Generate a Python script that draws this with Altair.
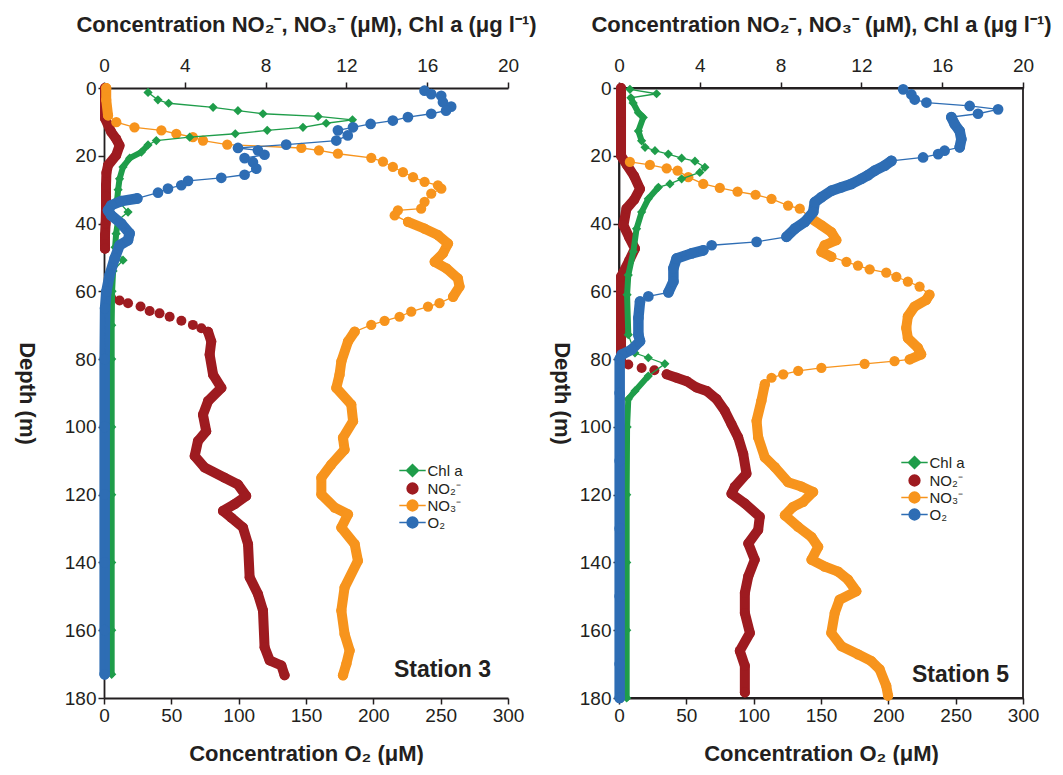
import altair as alt
import pandas as pd

# ---------------- Station 3 ----------------
ST3_CHL_DEPTH = [1.3, 3.5, 4.5, 5.7, 6.7, 7.6, 8.4, 9.4, 10.4, 11.6, 12.5, 13.5, 14.5, 15.5, 16.8,
                 18.9, 20.7, 23.3, 26.8, 30, 33, 36.6, 39, 43, 47, 50.8, 54, 60, 70, 80, 100, 120,
                 140, 160, 173]
ST3_CHL = [2.18, 2.67, 3.2, 5.4, 6.63, 7.87, 10.6, 12.3, 11.0, 9.85, 8.08, 6.5, 4.24, 2.59, 2.18,
           1.85, 1.27, 0.94, 0.77, 0.7, 0.65, 1.19, 0.7, 0.6, 0.55, 0.94, 0.45, 0.4, 0.38, 0.38,
           0.38, 0.38, 0.38, 0.38, 0.38]

ST3_NO2_DEPTH = [0, 4, 8, 9, 13, 15, 17, 19.9, 22.8, 25, 28.7, 32, 35.6, 40, 43.4, 47.4,
                 62, 62.7, 63.5, 64.5, 65.8, 66.5, 67.5, 68.7, 69.9, 70.9, 71.9,
                 74.8, 78.7, 84.6, 88.5, 92.4, 96.4, 101.3, 104.2, 108.6, 112, 115, 117, 120.4,
                 122.8, 124.8, 126.8, 129.7, 134.6, 144.4, 149.3, 154.2, 165, 168.9, 170.4, 173.3]
ST3_NO2 = [0.05, 0.05, 0.05, 0.05, 0.36, 0.6, 0.77, 0.6, 0.2, 0.12, 0.1, 0.1, 0.1, 0.08, 0.05, 0.05,
           0.36, 0.77, 1.19, 1.81, 2.26, 2.75, 3.25, 3.83, 4.4, 4.82, 5.15,
           5.31, 5.23, 5.4, 5.81, 5.15, 4.9, 5.06, 4.65, 4.49, 4.98, 5.97, 6.63, 7.04,
           6.47, 5.89, 6.3, 6.88, 7.13, 7.21, 7.62, 7.87, 7.95, 8.2, 8.78, 8.94]

ST3_NO3_DEPTH = [0, 3.5, 8.1, 10.1, 11.6, 12.5, 13.5, 14.5, 15.5, 16.7, 17.7, 18.4, 19.4, 20.6, 21.7,
                 23.3, 24.8, 26.3, 27.7, 28.7, 29.7, 31.2, 33.6, 35.6, 36.1, 37.6, 39.5, 41.5, 43.4,
                 45.9, 48.8, 51.3, 53.2, 56.2, 58.6, 61.6, 63.5, 64.5, 66, 67.5, 68.7, 69.9, 71.9,
                 74.8, 80.7, 84.6, 88.5, 93.4, 98.3, 103.2, 106.7, 111.1, 115, 119.9, 123.8, 125.8,
                 129.7, 134.6, 139.5, 147.4, 154.2, 161.1, 166, 169.9, 173.3]
ST3_NO3 = [0.11, 0.11, 0.2, 0.61, 1.51, 2.84, 3.58, 4.4, 4.9, 6.1, 9.77, 10.64, 11.58, 13.23, 13.81,
           14.3, 14.8, 15.3, 15.87, 16.53, 16.7, 16.2, 15.87, 15.7, 14.55, 14.39, 15.05, 15.87, 16.53,
           17.03, 16.78, 16.37, 16.95, 17.52, 17.6, 17.28, 16.61, 16.04, 15.21, 14.63, 13.89, 13.23,
           12.41, 12.08, 11.75, 11.66, 11.5, 12.24, 12.33, 11.83, 11.91, 11.25, 10.76, 10.76, 11.42,
           12.08, 11.75, 12.41, 12.57, 11.91, 11.75, 11.91, 12.16, 12.0, 11.83]

ST3_O2_DEPTH = [0.8, 1.8, 2.3, 4.2, 5.5, 6.7, 7.6, 8.6, 9.6, 10.6, 11.6, 12.5, 14, 15.5, 16.7, 17.7,
                18.4, 19.7, 20.7, 21.9, 23.8, 25.6, 26.5, 27.4, 28.7, 29.7, 30.9, 32.6, 33.4, 34.6,
                36.1, 37.6, 40, 42.9, 44.9, 46.4, 50.3, 55.2, 60.1, 65, 80, 100, 120, 140, 160, 173]
ST3_O2 = [238, 243, 250.4, 251.7, 257.8, 254, 243, 225.7, 214.5, 198, 184.9, 173.7, 181, 172.5, 135.3,
          99.5, 114.3, 119.2, 104.4, 110.6, 113.1, 104.4, 87.1, 62.4, 57.4, 47.5, 40.1, 24.7, 12.8,
          5.4, 3, 5.4, 12.8, 19, 17.8, 11.6, 7.9, 4.2, 1.7, 0.8, 0.5, 0.5, 0.5, 0.5, 0.5, 0.5]

# ---------------- Station 5 ----------------
ST5_CHL_DEPTH = [0.4, 1.7, 2.9, 4.4, 7.3, 8.7, 12.7, 15.6, 17.5, 18.5, 19.5, 20.7, 21.6, 23.4, 24.9,
                 26.8, 28.3, 29.3, 32.7, 36.6, 41.5, 48.3, 55.2, 61, 72.8, 78.2, 79.6, 81.4, 85,
                 89.4, 91.8, 100, 120, 140, 160, 180]
ST5_CHL = [0.54, 1.86, 0.59, 0.7, 0.96, 1.2, 0.96, 1.12, 1.29, 1.78, 2.44, 3.1, 3.76, 4.25, 4.0,
           3.1, 2.52, 1.95, 1.45, 1.12, 0.87, 0.71, 0.46, 0.4, 0.46, 0.79, 1.45, 2.27, 1.45,
           0.79, 0.46, 0.4, 0.38, 0.38, 0.38, 0.38]

ST5_NO2_DEPTH = [0, 10, 20, 22.8, 26, 29.8, 33, 35.6, 40.5, 44, 47.4, 51, 55.7, 60, 70, 80,
                 81.6, 82.6, 83.3, 84.5, 85.5, 86.5, 88.4, 89.4, 91.8, 95.3, 99.2, 103.1, 108,
                 113.8, 117.7, 119.7, 122.6, 126.5, 130.4, 134.4, 139.2, 144.1, 149, 154.9, 160.8,
                 166.1, 170.5, 178.4]
ST5_NO2 = [0.1, 0.1, 0.1, 0.4, 0.75, 1.04, 0.75, 0.37, 0.22, 0.5, 0.79, 0.5, 0.1, 0.1, 0.1, 0.1,
           0.46, 1.12, 1.75, 2.36, 2.85, 3.35, 3.84, 4.34, 4.83, 5.24, 5.57, 5.9, 6.15,
           6.31, 5.73, 5.57, 6.23, 6.97, 6.89, 6.4, 6.72, 6.4, 6.23, 6.23, 6.48,
           5.98, 6.23, 6.23]

ST5_NO3_DEPTH = [21.8, 22.7, 23.7, 24.4, 26.3, 28.3, 29.5, 30.6, 31.5, 32.7, 34.7, 35.6, 38.6, 40.5,
                 42.5, 44.9, 46.4, 48.3, 49.8, 51.3, 52.4, 53.5, 54.5, 55.7, 57.1, 58.6, 61, 62.5,
                 64.5, 67.4, 70.8, 73.8, 76.7, 78.6, 80.1, 80.6, 81.4, 82.6, 83.5, 84.5, 85.5, 87.4,
                 92.3, 98.2, 103.1, 109, 111.9, 116.3, 117.6, 119.2, 122.1, 123.6, 126.1, 129.5,
                 132.5, 135.4, 139.2, 141.2, 142.7, 145.1, 148.5, 151, 154.9, 160.8, 164.7, 167.1,
                 169.1, 171.5, 176.4, 179.3]
ST5_NO3 = [0.54, 1.53, 2.36, 2.9, 3.43, 4.17, 4.99, 5.87, 6.76, 7.55, 8.37, 8.95, 9.53, 10.02,
           10.51, 10.76, 10.18, 10.02, 10.51, 11.26, 11.83, 12.41, 13.23, 13.73, 14.3, 14.88, 15.37,
           15.21, 14.63, 14.3, 14.22, 14.3, 14.8, 14.96, 14.39, 13.64, 12.16, 10.02, 8.87, 8.13,
           7.55, 7.22, 7.05, 6.81, 6.89, 7.22, 7.72, 8.37, 9.03, 9.61, 9.12, 8.62, 8.21, 8.87,
           9.53, 9.86, 9.53, 10.18, 10.85, 11.34, 11.75, 10.92, 10.68, 10.51, 11.01, 11.83,
           12.49, 12.9, 13.23, 13.32]

ST5_O2_DEPTH = [0.4, 1.9, 3.4, 4.3, 5.3, 6.3, 7.6, 8.6, 10.7, 12.7, 15.1, 17.5, 18.5, 19.5, 20.5,
                21.5, 22.9, 24.4, 25.7, 26.8, 28.3, 29.3, 30.3, 32.2, 33.7, 36.6, 39.5, 41.5, 43.9,
                45.4, 46.4, 47.9, 48.8, 50.3, 53.2, 57.1, 60.3, 61.5, 63, 67.9, 72.8, 74.7, 77.2,
                78.7, 80, 90, 110, 130, 150, 170, 180]
ST5_O2 = [211, 217.1, 219.6, 228.3, 260.4, 281.5, 266.6, 246.8, 249.3, 253, 254.2, 253, 241.8, 237,
          225.8, 202.3, 197.3, 189.9, 185, 180, 172.6, 165.2, 157.8, 150.4, 145.4, 144.2, 138,
          130.6, 124.4, 102.2, 68.8, 62.6, 53.9, 42.8, 40.4, 40.4, 36.7, 21.8, 15.6, 14.4, 14.4,
          15.6, 9.4, 2, 0.5, 0.5, 0.5, 0.5, 0.5, 0.5, 0.5]

# ---------------- labels / ticks ----------------
SERIES = ["Chl a", "NO\u2082\u207b", "NO\u2083\u207b", "O\u2082"]
COLORS = ["#1f9d4a", "#9e1b20", "#f7941d", "#2e6db4"]
STATIONS = ["Station 3", "Station 5"]
CONC_TICKS = [0, 4, 8, 12, 16, 20]
O2_TICKS = [0, 50, 100, 150, 200, 250, 300]
DEPTH_TICKS = [0, 20, 40, 60, 80, 100, 120, 140, 160, 180]

TOP_TITLE = "Concentration NO\u2082\u207b, NO\u2083\u207b (\u03bcM), Chl a (\u03bcg l\u207b\u00b9)"
BOTTOM_TITLE = "Concentration O\u2082 (\u03bcM)"

FONT = "Liberation Sans"
INK = "#231f20"
W, H = 404, 610

# legend symbols: line + marker, custom paths in unit square
P_DIAMOND = "M-2.2,0H2.2M0,-1L1,0L0,1L-1,0Z"
P_CIRC_LINE = "M-2.2,0H2.2M0.9,0A0.9,0.9,0,1,1,-0.9,0A0.9,0.9,0,1,1,0.9,0Z"
P_CIRC = "M0.9,0A0.9,0.9,0,1,1,-0.9,0A0.9,0.9,0,1,1,0.9,0Z"
LEGEND_PATHS = [P_DIAMOND, P_CIRC, P_CIRC_LINE, P_CIRC_LINE]


def make_y(title_pad):
    return alt.Y("depth:Q",
                 scale=alt.Scale(domain=[0, 180], reverse=True, nice=False, zero=False),
                 axis=alt.Axis(values=DEPTH_TICKS, title="Depth (m)", titleAngle=90,
                               titleBaseline="top", titlePadding=title_pad, labelPadding=2))


XC = alt.X("value:Q", scale=alt.Scale(domain=[0, 20], nice=False),
           axis=alt.Axis(orient="top", values=CONC_TICKS, title=TOP_TITLE, titleFontSize=22,
                         titlePadding=20, labelPadding=7))
XO = alt.X("value:Q", scale=alt.Scale(domain=[0, 300], nice=False),
           axis=alt.Axis(orient="bottom", values=O2_TICKS, title=BOTTOM_TITLE,
                         titlePadding=18, labelPadding=2))


def band_id(ranges):
    expr = "0"
    for i, (a, b) in reversed(list(enumerate(ranges))):
        expr = f"(datum.depth >= {a} && datum.depth <= {b}) ? {i + 1} : ({expr})"
    return expr


def series_layers(depths, values, color, x, y, shape, size, bands, band_w, line=True):
    df = pd.DataFrame({"depth": depths, "value": values})
    base = alt.Chart(df)
    layers = []
    if bands:
        layers.append(
            base.transform_calculate(band=band_id(bands))
            .transform_filter("datum.band > 0")
            .mark_line(color=color, strokeWidth=band_w, strokeCap="round", strokeJoin="round")
            .encode(x=x, y=y, detail="band:N", order="depth:Q")
        )
    if line:
        layers.append(base.mark_line(color=color, strokeWidth=1.3)
                      .encode(x=x, y=y, order="depth:Q"))
    layers.append(base.mark_point(shape=shape, filled=True, size=size, color=color, opacity=1)
                  .encode(x=x, y=y))
    return layers


def panel(station, chl, no2, no3, o2, bands, legend_xy, text_xy, border, y_title_pad):
    y = make_y(y_title_pad)
    conc = alt.layer(
        *series_layers(no2[0], no2[1], COLORS[1], XC, y, "circle", 100, bands["no2"], 10, line=False),
        *series_layers(no3[0], no3[1], COLORS[2], XC, y, "circle", 105, bands["no3"], 10),
        *series_layers(chl[0], chl[1], COLORS[0], XC, y, "diamond", 85, bands["chl"], 6),
    )
    oxy = alt.layer(*series_layers(o2[0], o2[1], COLORS[3], XO, y, "circle", 115, bands["o2"], 10.5))

    leg = alt.Legend(orient="none", legendX=legend_xy[0], legendY=legend_xy[1], title=None,
                     labelFont=FONT, labelFontSize=15, labelColor=INK, symbolSize=144,
                     symbolStrokeWidth=1.5, labelOffset=7.5, rowPadding=0, padding=0,
                     symbolOffset=0)
    legend_layer = (
        alt.Chart(pd.DataFrame({"series": SERIES}))
        .transform_filter("false")
        .mark_point(filled=True, opacity=1, strokeWidth=1.5)
        .encode(
            fill=alt.Fill("series:N", scale=alt.Scale(domain=SERIES, range=COLORS), legend=leg),
            stroke=alt.Stroke("series:N", scale=alt.Scale(domain=SERIES, range=COLORS), legend=leg),
            shape=alt.Shape("series:N", scale=alt.Scale(domain=SERIES, range=LEGEND_PATHS), legend=leg),
        )
    )
    label = (
        alt.Chart(pd.DataFrame({"station": [station]}))
        .mark_text(font=FONT, fontSize=23, fontWeight="bold", color=INK, align="right",
                   baseline="middle")
        .encode(text="station:N", x=alt.value(text_xy[0]), y=alt.value(text_xy[1]))
    )
    chart = alt.layer(conc, oxy, legend_layer, label).resolve_scale(x="independent").properties(
        width=W, height=H)
    if border:
        chart = chart.properties(view=alt.ViewBackground(stroke=INK, strokeWidth=1.8))
    return chart


BANDS3 = {
    "no2": [(0, 47.5), (71.5, 174)],
    "no3": [(0, 8.5), (38, 62), (71, 174)],
    "chl": [(16, 35), (38, 49), (53, 174)],
    "o2": [(32, 174)],
}
BANDS5 = {
    "no2": [(0, 80.5), (84, 181)],
    "no3": [(38, 50), (61, 80.2), (86, 181)],
    "chl": [(2.5, 17), (29, 78), (84, 181)],
    "o2": [(8, 17.6), (21.3, 44), (47.8, 60.5), (63, 181)],
}

p3 = panel(STATIONS[0], (ST3_CHL_DEPTH, ST3_CHL), (ST3_NO2_DEPTH, ST3_NO2),
           (ST3_NO3_DEPTH, ST3_NO3), (ST3_O2_DEPTH, ST3_O2), BANDS3,
           (301, 375), (387, 582), border=False, y_title_pad=28)
p5 = panel(STATIONS[1], (ST5_CHL_DEPTH, ST5_CHL), (ST5_NO2_DEPTH, ST5_NO2),
           (ST5_NO3_DEPTH, ST5_NO3), (ST5_O2_DEPTH, ST5_O2), BANDS5,
           (288, 367), (390, 587), border=True, y_title_pad=8)

chart = (
    alt.hconcat(p3, p5, spacing=12)
    .resolve_scale(x="independent", y="independent", fill="independent",
                   stroke="independent", shape="independent")
    .properties(padding={"left": 7, "top": 4, "right": 0, "bottom": 0})
    .configure_axis(domainColor=INK, tickColor=INK, labelColor=INK, titleColor=INK,
                    labelFont=FONT, titleFont=FONT, labelFontSize=19, titleFontSize=22,
                    titleFontWeight="bold", grid=False, tickSize=6, domainWidth=1.8,
                    tickWidth=1.5, labelFlush=False)
    .configure_view(stroke=None)
)

chart.save("out.html", embed_options={"renderer": "svg", "actions": False})
